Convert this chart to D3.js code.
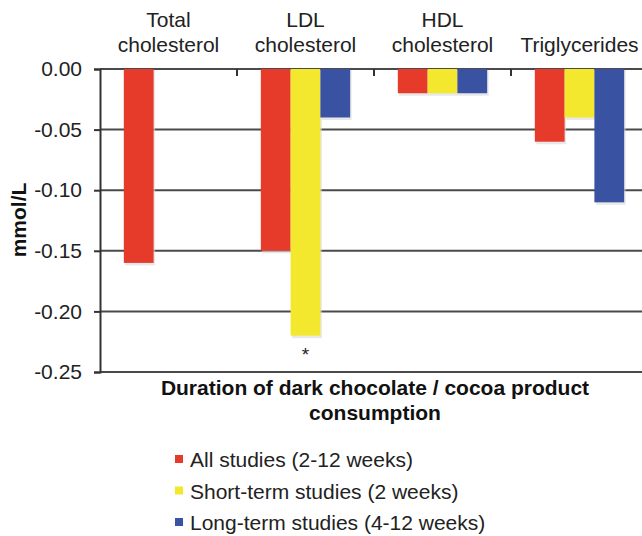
<!DOCTYPE html>
<html><head><meta charset="utf-8">
<script src="https://cdn.jsdelivr.net/npm/d3@7"></script>
<style>body{margin:0;background:#fff}svg{display:block;font-family:"Liberation Sans",Arial,sans-serif}</style>
</head><body><svg id="c" width="642" height="536"></svg>
<script>
const categories = ["Total cholesterol","LDL cholesterol","HDL cholesterol","Triglycerides"];
const categoryLines = [["Total","cholesterol"],["LDL","cholesterol"],["HDL","cholesterol"],["","Triglycerides"]];
const seriesNames = ["All studies (2-12 weeks)","Short-term studies (2 weeks)","Long-term studies (4-12 weeks)"];
const allStudies = [-0.16,-0.15,-0.02,-0.06];
const shortTerm = [null,-0.22,-0.02,-0.04];
const longTerm = [null,-0.04,-0.02,-0.11];
const colors = ["#e63a2a","#f3e82e","#3a52a2"];
const yTicks = [0,-0.05,-0.10,-0.15,-0.20,-0.25];
const yTickLabels = ["0.00","-0.05","-0.10","-0.15","-0.20","-0.25"];
const significant = [{cat:"LDL cholesterol", series:1}];

const svg = d3.select("#c");
const y = d3.scaleLinear().domain([-0.25,0]).range([372,69]);
const x = d3.scaleBand().domain(categories).range([100,648]).padding(0);
const xs = d3.scaleBand().domain([0,1,2]).range([0,x.bandwidth()]).paddingInner(0).paddingOuter(0.8);
const seriesData = [allStudies, shortTerm, longTerm];

// gridlines
svg.append("g").selectAll("line").data(yTicks).join("line")
  .attr("x1",100).attr("x2",642).attr("y1",d=>y(d)).attr("y2",d=>y(d))
  .attr("stroke","#4a4a4a").attr("stroke-width",2);

// y axis
const ya = svg.append("g").attr("transform","translate(100,0)")
  .call(d3.axisLeft(y).tickValues(yTicks).tickFormat((d,i)=>yTickLabels[i]).tickSize(6).tickPadding(12));
ya.select(".domain").attr("stroke","#333").attr("stroke-width",2);
ya.selectAll(".tick line").attr("stroke","#333").attr("stroke-width",2);
ya.selectAll(".tick text").attr("font-size",21).attr("fill","#222").attr("font-family","Liberation Sans, Arial, sans-serif");

// category ticks on the zero line
svg.append("g").selectAll("line").data(categories.slice(1)).join("line")
  .attr("x1",d=>x(d)).attr("x2",d=>x(d)).attr("y1",y(0)).attr("y2",y(0)+7)
  .attr("stroke","#333").attr("stroke-width",2);

// bars
seriesData.forEach((vals,si)=>{
  const data = categories.map((c,i)=>({c,v:vals[i]})).filter(d=>d.v!==null);
  svg.append("g").selectAll("rect.sh").data(data).join("rect")
    .attr("x",d=>x(d.c)+xs(si)+1.5).attr("y",y(0)+1).attr("width",xs.bandwidth())
    .attr("height",d=>y(d.v)-y(0)+1.5).attr("fill","#d8d8d8").attr("opacity",0.6);
  svg.append("g").selectAll("rect.b").data(data).join("rect")
    .attr("x",d=>x(d.c)+xs(si)).attr("y",y(0)).attr("width",xs.bandwidth())
    .attr("height",d=>y(d.v)-y(0)).attr("fill",colors[si]);
});

// significance marker
svg.append("g").selectAll("text").data(significant).join("text")
  .attr("x",d=>x(d.cat)+xs(d.series)+xs.bandwidth()/2)
  .attr("y",d=>y(seriesData[d.series][categories.indexOf(d.cat)])+25)
  .attr("text-anchor","middle").attr("font-size",19).attr("fill","#222").text("*");

// category labels
const cl = svg.append("g").selectAll("text").data(categories).join("text")
  .attr("text-anchor","middle").attr("font-size",21).attr("fill","#222");
cl.each(function(d,i){
  const t = d3.select(this);
  categoryLines[i].forEach((ln,j)=>{
    t.append("tspan").attr("x",x(d)+x.bandwidth()/2).attr("y",27+25*j).text(ln);
  });
});

// y title
svg.append("text").attr("transform","translate(26,220) rotate(-90)")
  .attr("text-anchor","middle").attr("font-size",21).attr("font-weight","bold").attr("fill","#111").text("mmol/L");

// x title
const xt = svg.append("text").attr("text-anchor","middle").attr("font-size",21).attr("font-weight","bold").attr("fill","#111");
xt.append("tspan").attr("x",375).attr("y",395).text("Duration of dark chocolate / cocoa product");
xt.append("tspan").attr("x",375).attr("y",420).text("consumption");

// legend
const lg = svg.append("g").selectAll("g").data(seriesNames).join("g")
  .attr("transform",(d,i)=>`translate(175,${467+31.5*i})`);
lg.append("rect").attr("x",0).attr("y",-12).attr("width",8).attr("height",8).attr("fill",(d,i)=>colors[i]);
lg.append("text").attr("x",15).attr("y",0).attr("font-size",21).attr("fill","#222").text(d=>d);
</script></body></html>
